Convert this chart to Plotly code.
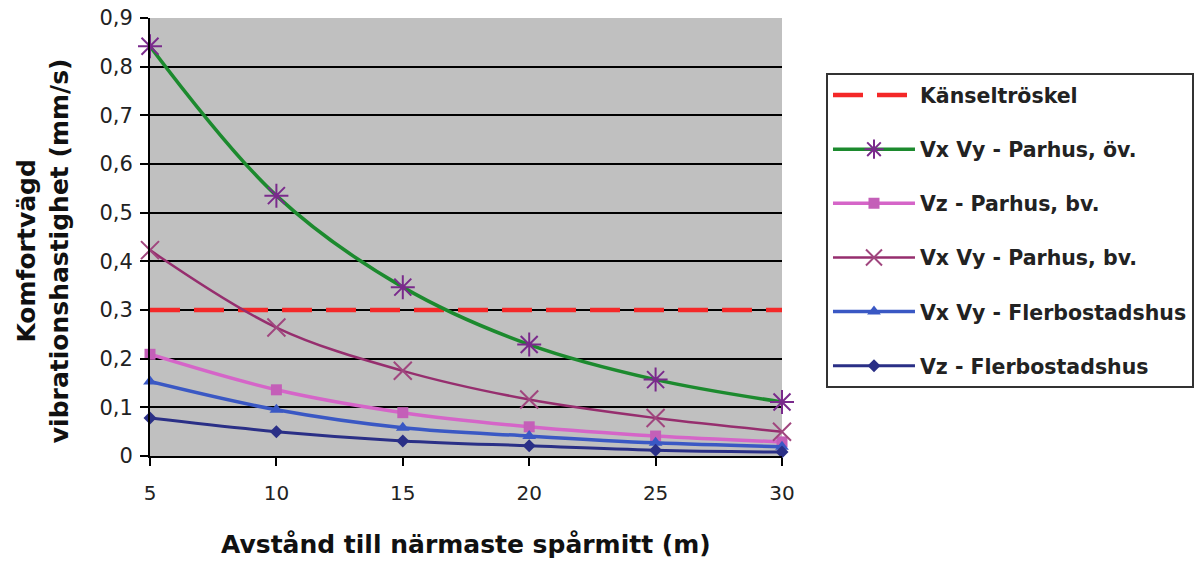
import plotly.graph_objects as go

distance = [5, 10, 15, 20, 25, 30]
threshold = [0.3, 0.3, 0.3, 0.3, 0.3, 0.3]
vxvy_parhus_ov = [0.842, 0.535, 0.347, 0.229, 0.157, 0.111]
vz_parhus_bv = [0.209, 0.136, 0.089, 0.060, 0.041, 0.029]
vxvy_parhus_bv = [0.423, 0.264, 0.175, 0.116, 0.078, 0.050]
vxvy_flerbostad = [0.153, 0.095, 0.058, 0.041, 0.027, 0.019]
vz_flerbostad = [0.078, 0.050, 0.031, 0.021, 0.012, 0.008]

y_ticks = [0, 0.1, 0.2, 0.3, 0.4, 0.5, 0.6, 0.7, 0.8, 0.9]
y_ticktext = ["0", "0,1", "0,2", "0,3", "0,4", "0,5", "0,6", "0,7", "0,8", "0,9"]
x_ticks = [5, 10, 15, 20, 25, 30]

x_title = "Avstånd till närmaste spårmitt (m)"
y_title = "Komfortvägd<br>vibrationshastighet (mm/s)"

fig = go.Figure()

fig.add_trace(go.Scatter(
    x=distance, y=threshold, mode="lines", name="Känseltröskel",
    line=dict(color="#F42828", width=4.5, dash="30px,14px"),
    legendgroup="a"))

fig.add_trace(go.Scatter(
    x=distance, y=vxvy_parhus_ov, mode="lines+markers", name="Vx Vy - Parhus, öv.",
    line=dict(color="#1C8A2E", width=3.5, shape="spline"),
    marker=dict(symbol="asterisk-open", size=20, color="#7A2A8C",
                line=dict(color="#7A2A8C", width=2)),
    cliponaxis=False, legendgroup="b"))

fig.add_trace(go.Scatter(
    x=distance, y=vz_parhus_bv, mode="lines+markers", name="Vz - Parhus, bv.",
    line=dict(color="#D565C8", width=3.5, shape="spline"),
    marker=dict(symbol="square", size=11, color="#C45FB8"),
    cliponaxis=False, legendgroup="c"))

fig.add_trace(go.Scatter(
    x=distance, y=vxvy_parhus_bv, mode="lines+markers", name="Vx Vy - Parhus, bv.",
    line=dict(color="#962E6E", width=2.5, shape="spline"),
    marker=dict(symbol="x-thin-open", size=18, color="#A0467E",
                line=dict(color="#A0467E", width=2)),
    cliponaxis=False, legendgroup="d"))

fig.add_trace(go.Scatter(
    x=distance, y=vxvy_flerbostad, mode="lines+markers", name="Vx Vy - Flerbostadshus",
    line=dict(color="#3A58C4", width=3.5, shape="spline"),
    marker=dict(symbol="triangle-up", size=12, color="#3A58C4"),
    cliponaxis=False, legendgroup="e"))

fig.add_trace(go.Scatter(
    x=distance, y=vz_flerbostad, mode="lines+markers", name="Vz - Flerbostadshus",
    line=dict(color="#2A2F86", width=3, shape="spline"),
    marker=dict(symbol="diamond", size=10, color="#2A2F86"),
    cliponaxis=False, legendgroup="f"))

fig.update_layout(
    width=1197, height=563,
    margin=dict(l=150, r=415, t=18, b=107, autoexpand=False),
    paper_bgcolor="white",
    plot_bgcolor="#C0C0C0",
    font=dict(family="DejaVu Sans", color="#222222"),
    showlegend=True,
    legend=dict(
        x=1.0696, y=0.874, xanchor="left", yanchor="top",
        bgcolor="white", bordercolor="#333333", borderwidth=2,
        font=dict(size=20.5, color="#222222", weight="bold"),
        tracegroupgap=24.5, itemwidth=82,
    ),
    annotations=[
        dict(text="<b>" + x_title + "</b>", xref="paper", yref="paper",
             x=0.5, y=-0.203, xanchor="center", yanchor="middle",
             showarrow=False, font=dict(size=25, color="#111111")),
        dict(text="<b>" + y_title + "</b>", xref="paper", yref="paper",
             x=-0.169, y=0.468, xanchor="center", yanchor="middle",
             textangle=-90, showarrow=False,
             font=dict(size=25, color="#111111")),
    ],
)

fig.update_xaxes(
    range=[5, 30], tickvals=x_ticks, ticks="outside", ticklen=8, tickwidth=2,
    tickcolor="black", showline=True, linecolor="black", linewidth=2,
    showgrid=False, zeroline=False, automargin=False,
    ticklabelstandoff=10,
    tickfont=dict(size=20, color="#222222"),
)

fig.update_yaxes(
    range=[0, 0.9], tickvals=y_ticks, ticktext=y_ticktext,
    ticks="outside", ticklen=8, tickwidth=2, tickcolor="black",
    showline=True, linecolor="black", linewidth=2,
    showgrid=True, gridcolor="black", gridwidth=2, zeroline=False,
    automargin=False, ticklabelstandoff=3,
    tickfont=dict(size=21, color="#222222"),
)

fig.write_html("out.html", config={"displayModeBar": False},
               post_script="document.body.style.margin='0px';")
